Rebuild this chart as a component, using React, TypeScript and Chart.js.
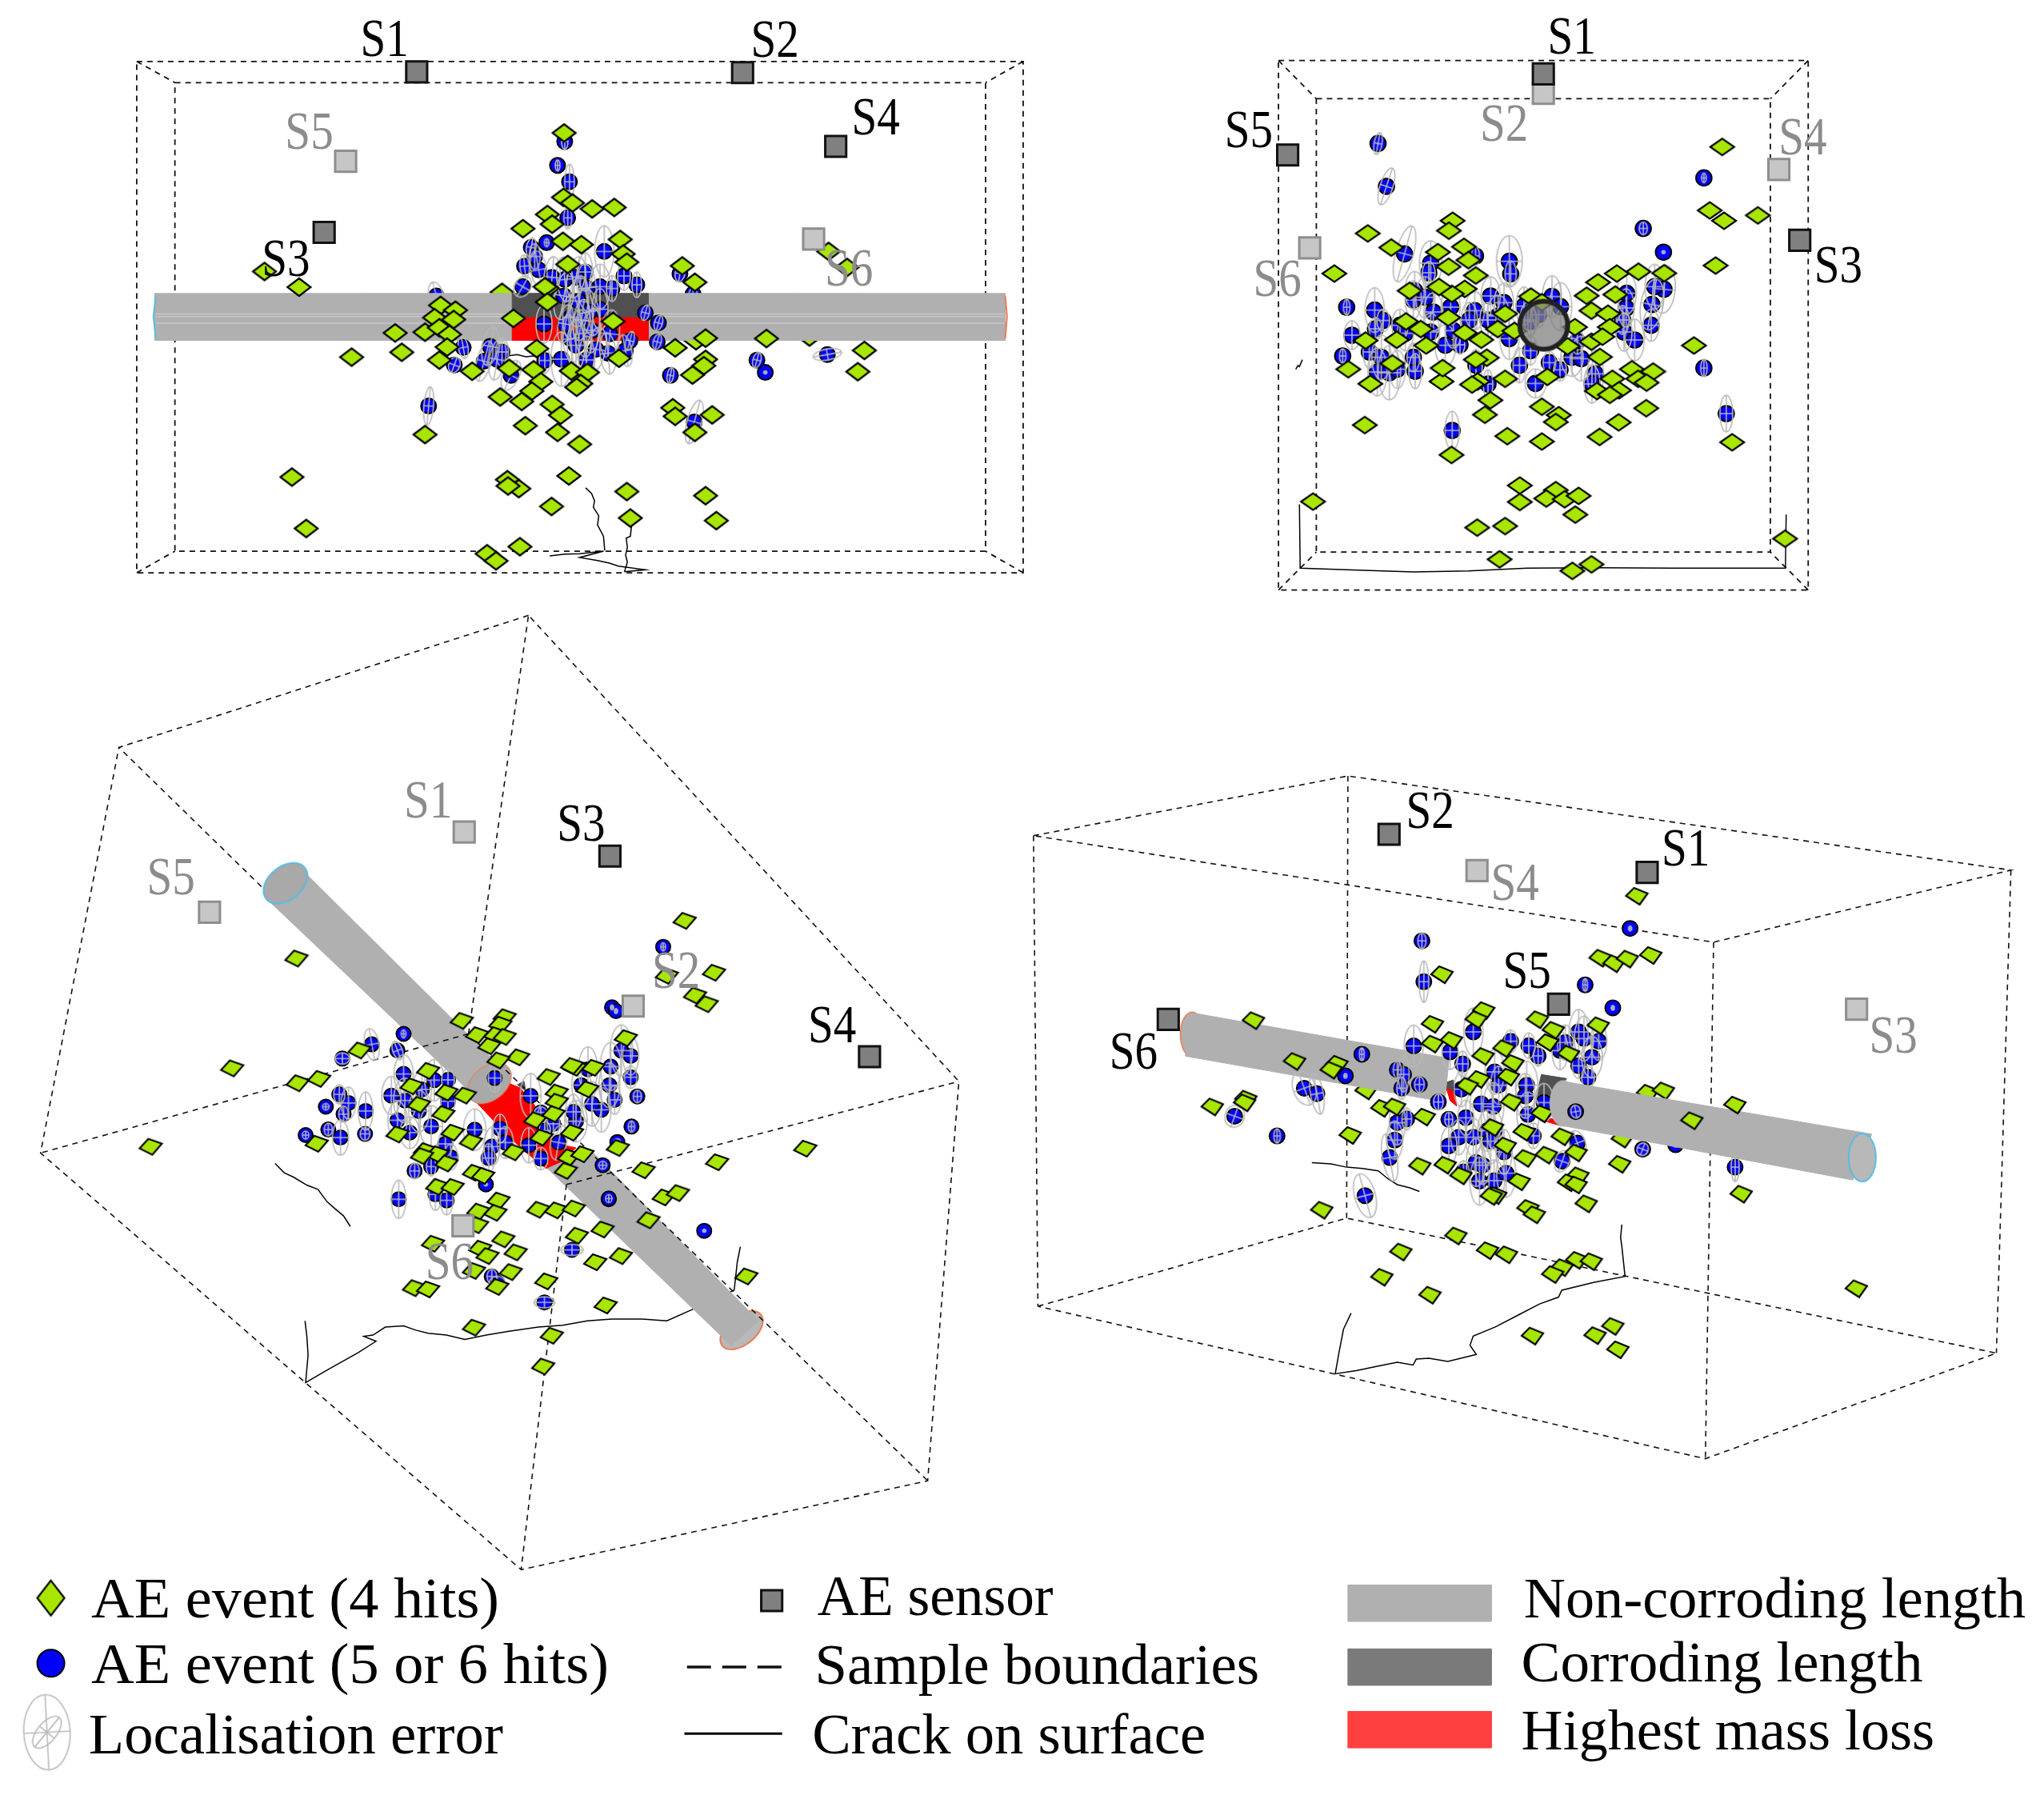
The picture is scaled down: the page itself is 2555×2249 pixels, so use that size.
import React, { useEffect, useRef } from "react";
import { Chart, registerables } from "chart.js";

Chart.register(...registerables);

type P = number[];
const GAP: P = [NaN, NaN];

// ---------- Top-left view ----------
const aBox: P[] = [[28,165],[1513,165],[1513,1538],[28,1538],[28,165],GAP,[92,222],[1450,222],[1450,1480],[92,1480],[92,222],GAP,[28,165],[92,222],GAP,[1513,165],[1450,222],GAP,[1513,1538],[1450,1480],GAP,[28,1538],[92,1480]];
const aRod: P[] = [[58,788],[1483,788],[1483,914],[58,914]];
const aCorroding: P[] = [[657,788],[885,788],[885,853],[657,853]];
const aMassLoss: P[] = [[657,853],[885,853],[885,914],[657,914]];
const aRodStripes: P[] = [[60,843],[657,843],GAP,[885,843],[1481,843],GAP,[60,850],[657,850],GAP,[885,850],[1481,850],GAP,[60,868],[657,868],GAP,[885,868],[1481,868]];
const aEndCyan: P[] = [[60,795],[56,850],[60,908]];
const aEndOrange: P[] = [[1483,795],[1486,850],[1483,908]];
const aCracks: P[] = [[780,1310],[790,1325],[795,1345],[793,1362],[802,1385],[800,1410],[810,1440],[812,1478],GAP,[855,1380],[857,1410],[855,1440],[848,1445],[850,1470],[847,1490],[850,1510],[845,1535],GAP,[720,1493],[745,1488],[770,1487],[810,1480],[770,1497],[800,1505],[820,1512],[835,1520],[880,1530],[845,1535],GAP,[640,958],[665,952],[680,958],[700,955]];
const aSensorsDark: P[] = [[497,193],[1043,195],[1199,393],[342,624]];
const aSensorsLight: P[] = [[378,433],[1162,642]];
const aLabelsDark: [string, number, number][] = [["S1",443,105],["S2",1097,107],["S4",1266,317],["S3",278,697]];
const aLabelsLight: [string, number, number][] = [["S5",317,354],["S6",1221,723]];
const aDiamondsBack: P[] = [[640,785],[965,915],[1155,905]];
const aDiamonds: P[] = [[744,357],[743,530],[758,545],[791,561],[828,557],[716,576],[724,602],[675,614],[838,643],[742,648],[773,657],[843,682],[849,704],[750,710],[716,774],[712,770],[942,714],[963,758],[242,729],[300,771],[1187,675],[1218,718],[537,820],[562,833],[527,853],[559,858],[716,811],[659,855],[461,894],[511,892],[535,880],[552,898],[826,863],[981,908],[1083,909],[930,934],[548,932],[388,959],[472,946],[535,967],[1247,941],[836,962],[698,936],[652,989],[590,997],[693,993],[756,996],[783,1000],[981,965],[978,982],[959,1007],[1236,998],[705,1025],[772,1030],[765,1040],[690,1050],[637,1066],[673,1078],[724,1086],[738,1115],[926,1095],[930,1118],[992,1114],[963,1161],[679,1143],[733,1161],[511,1167],[770,1193],[288,1281],[649,1288],[668,1312],[650,1305],[752,1278],[849,1320],[981,1331],[723,1360],[855,1391],[999,1398],[312,1419],[670,1468],[615,1487],[630,1506]];
const aBlueBack: P[] = [[960,790,5,8,0],[530,795,9,18,-15]];
const aBlue: P[] = [[745,380,4,10,0],[733,444,3,7,0],[753,488,6,22,0],[750,585,5,14,0],[938,735,6,10,10],[880,840,5,10,15],[902,867,5,10,15],[900,918,5,10,15],[575,933,6,14,-10],[620,930,10,24,10],[640,945,8,18,0],[610,970,9,26,15],[632,965,10,26,10],[560,980,7,10,20],[655,1008,10,20,25],[922,1008,4,10,10],[1067,967,5,10,15],[1081,1000,2,2,0],[1185,952,18,7,-10],[517,1090,6,24,5],[962,1133,9,28,15]];
const aCoreBlue: P[] = [[490,160,3,5,0],[432,178,6,12,10],[445,212,7,16,0],[407,248,6,14,-5],[460,262,10,24,-10],[510,290,10,26,5],[400,325,10,14,30],[635,270,9,24,0],[558,298,10,28,-5],[600,290,11,26,10],[706,193,12,32,0],[780,285,8,18,0],[828,318,6,16,0],[735,332,7,16,0],[555,360,12,30,10],[690,325,13,28,0],[640,330,12,30,-5],[610,380,12,32,5],[690,410,10,26,0],[650,420,12,30,-10],[580,440,10,28,0],[560,465,9,24,10],[480,465,10,24,0],[625,500,11,30,-8],[660,490,10,28,5],[727,502,12,30,5],[600,545,11,32,0],[675,560,12,28,10],[720,575,10,26,-5],[483,602,7,16,0],[545,597,13,34,0],[785,565,8,20,-10],[802,528,5,12,15],[640,600,10,30,0],[580,520,10,30,-6],[620,450,10,26,8]];

// ---------- Top-right view ----------
const bBox: P[] = [[83,158],[1525,158],[1525,1542],[83,1542],[83,158],GAP,[186,258],[1422,258],[1422,1443],[186,1443],[186,258],GAP,[83,158],[186,258],GAP,[1525,158],[1422,258],GAP,[1525,1542],[1422,1443],GAP,[83,1542],[186,1443]];
const bCracks: P[] = [[140,1318],[142,1485],[300,1490],[450,1495],[600,1492],[760,1485],[950,1484],[1160,1485],[1463,1485],[1465,1345],GAP,[130,965],[136,955],[140,958],[148,940]];
const bRodEnd: P[] = [[805,850]];
const bSensorsLight: P[] = [[804,244],[1445,443],[168,648]];
const bSensorsDark: P[] = [[804,193],[108,405],[1502,628]];
const bLabelsDark: [string, number, number][] = [["S1",881,97],["S5",2,342],["S3",1607,695]];
const bLabelsLight: [string, number, number][] = [["S2",697,325],["S4",1510,360],["S6",80,730]];
const bDiamonds: P[] = [[1291,384],[1257,550],[1296,577],[1388,563],[1273,694],[1214,903],[1318,1156],[557,577],[547,603],[326,610],[390,647],[235,715],[588,645],[517,659],[600,680],[546,697],[620,720],[590,755],[555,768],[520,750],[440,760],[1004,715],[1063,710],[1133,714],[953,738],[922,773],[1000,770],[935,812],[980,820],[890,855],[985,855],[935,893],[965,880],[958,933],[1045,965],[1103,971],[1062,990],[1085,1000],[992,990],[1010,1020],[950,1022],[985,1032],[870,905],[405,888],[485,903],[393,950],[273,965],[333,1003],[527,997],[530,962],[650,935],[625,997],[610,1005],[700,990],[815,985],[680,860],[725,865],[635,888],[620,940],[660,1046],[645,1084],[800,1063],[846,1085],[838,1103],[1084,1067],[1009,1104],[318,1111],[706,1140],[800,1154],[957,1142],[554,1189],[740,1269],[740,1312],[838,1281],[812,1303],[862,1305],[900,1296],[891,1345],[624,1379],[700,1375],[177,1311],[1462,1408],[685,1462],[883,1492],[935,1475],[770,775],[800,790],[430,840],[470,860],[320,890],[545,830],[590,870],[700,820]];
const bBlue: P[] = [[354,375,5,14,10],[377,487,8,24,18],[1241,465,3,6,0],[1076,597,5,8,0],[1131,659,2,2,0],[1241,962,4,11,0],[1302,1081,8,23,0],[556,1125,9,24,0]];
const bCoreBlue: P[] = [[287,172,11,36,15],[385,207,14,28,0],[378,243,8,14,0],[553,180,5,12,0],[680,200,16,32,0],[685,247,7,16,0],[840,332,12,26,0],[872,370,14,30,0],[70,372,4,10,0],[175,383,12,28,0],[207,422,8,14,0],[178,453,8,14,0],[90,477,10,18,0],[55,555,4,9,0],[155,540,8,20,0],[200,560,12,28,0],[185,615,12,30,0],[230,618,14,34,0],[260,605,10,24,0],[327,612,8,22,0],[320,560,8,18,0],[325,310,12,24,0],[320,345,10,24,0],[365,335,12,26,0],[395,390,12,24,0],[270,440,10,20,0],[290,470,10,22,0],[385,465,11,24,0],[440,515,13,26,0],[495,513,6,12,0],[470,460,10,22,0],[460,372,12,22,0],[550,385,12,24,0],[530,420,10,22,0],[610,330,12,24,0],[660,355,12,24,0],[638,405,14,26,0],[600,420,10,22,0],[735,368,10,24,0],[750,420,10,22,0],[680,490,12,26,0],[555,590,8,20,0],[600,660,6,18,0],[718,590,8,22,0],[760,535,8,18,0],[778,658,13,18,0],[830,580,8,14,0],[870,607,8,14,0],[915,560,14,24,0],[950,565,14,28,0],[935,500,8,16,0],[1003,622,10,30,0],[990,660,10,24,0],[1120,320,12,26,0],[1118,375,10,24,0],[1105,420,8,18,0],[1110,465,10,24,0],[1150,495,12,26,0],[1215,362,14,32,10],[1260,305,14,30,5],[1225,295,12,28,0],[1212,440,10,20,0],[760,425,8,18,0],[790,400,8,16,0]];

// ---------- Lower-left view ----------
const cBoxBehindRod: P[] = [[886,934],[155,226]];
const cBox: P[] = [[824,12],[155,226],[27,883],[812,1558],[1476,1414],[1527,767],[824,12],GAP,[726,690],[824,12],GAP,[726,690],[27,883],GAP,[726,690],[1476,1414],GAP,[886,934],[812,1558],GAP,[886,934],[1527,767]];
const cRodUpper: P[] = [[458,428],[395,470],[735,790],[785,750]];
const cCoreMassLoss: P[] = [[125,372],[240,305],[300,330],[355,395],[360,480],[440,540],[510,555],[470,590],[440,640],[395,630],[320,570],[250,505]];
const cCoreCorroding: P[] = [[290,318],[315,305],[322,342]];
const cRodLower: P[] = [[925,878],[1200,1155],[1155,1195],[855,908]];
const cRodCapTop: P[] = [[427,446]];
const cRodCapMid: P[] = [[760,770]];
const cRodCapEnd: P[] = [[1172,1170]];
const cCracks: P[] = [[410,900],[425,915],[440,922],[462,935],[480,942],[495,962],[510,975],[522,985],[533,1002],GAP,[459,1155],[462,1180],[464,1210],[460,1255],[500,1232],[545,1207],[575,1188],[555,1180],[570,1178],[590,1165],[620,1163],[640,1170],[660,1175],[690,1178],[720,1185],[755,1178],[790,1172],[840,1165],[880,1162],[920,1155],[960,1152],[1010,1152],[1050,1155],[1095,1135],[1125,1122],[1160,1105],[1165,1060],[1170,1035]];
const cSensorsLight: P[] = [[719,363],[303,493],[995,645],[717,1001]];
const cSensorsDark: P[] = [[957,402],[1381,727]];
const cLabelsDark: [string, number, number][] = [["S3",910,350],["S4",1320,677]];
const cLabelsLight: [string, number, number][] = [["S1",660,312],["S5",240,437],["S2",1065,588],["S6",695,1060]];
const cDiamonds: P[] = [[1079,507],[1127,591],[1050,596],[1096,628],[1115,642],[445,568],[340,746],[447,770],[482,763],[207,873],[715,669],[740,692],[785,663],[778,675],[770,692],[760,710],[785,695],[807,728],[775,733],[548,717],[983,697],[660,750],[633,775],[645,805],[690,785],[720,790],[685,820],[610,853],[478,868],[655,880],[675,885],[700,850],[730,865],[690,900],[650,888],[735,915],[750,920],[675,938],[700,938],[775,960],[742,978],[770,980],[840,975],[869,976],[898,973],[740,1000],[857,760],[900,745],[895,742],[870,785],[870,800],[920,780],[845,858],[835,830],[865,820],[895,850],[890,890],[912,885],[885,912],[800,882],[970,875],[1012,911],[1132,898],[1276,876],[1045,955],[1068,948],[1020,992],[945,1007],[903,1017],[975,1050],[933,1060],[668,1030],[783,1023],[803,1044],[745,1038],[757,1050],[735,1074],[795,1076],[773,1100],[637,1102],[660,1104],[853,1091],[1180,1083],[950,1130],[735,1166],[862,1179],[848,1229],[930,745]];
const cBlue: P[] = [[1044,549,3,5,0],[568,707,9,20,-10],[520,730,9,7,0],[610,717,6,12,-20],[620,690,3,5,0],[620,755,12,24,0],[515,788,7,12,0],[493,808,4,4,0],[530,802,9,20,0],[522,820,6,10,0],[558,815,9,24,0],[460,854,4,5,0],[497,845,5,8,0],[517,858,10,22,0],[557,852,6,8,0],[622,798,14,28,0],[650,780,12,24,0],[670,765,12,26,0],[630,850,12,20,0],[665,840,14,26,0],[638,912,6,10,0],[612,958,9,24,0],[672,950,8,20,0],[665,905,6,12,0],[645,815,13,26,0],[600,790,12,24,0],[610,830,12,24,0],[1111,1009,2,2,0],[955,958,4,4,0],[895,1040,14,7,0],[764,1083,6,9,0],[773,1093,10,8,0],[850,1125,13,7,0]];
const cCoreBlue: P[] = [[205,293,8,18,0],[340,360,13,28,0],[378,422,8,7,0],[225,483,9,18,0],[245,535,10,20,0],[195,550,10,24,0],[130,487,14,26,0],[182,593,8,18,0],[333,545,10,22,0],[378,595,9,14,0],[393,490,7,12,0],[445,535,10,22,10],[510,455,14,26,0],[425,465,8,14,0],[605,412,12,28,0],[530,320,12,26,0],[555,260,12,28,0],[640,250,13,30,0],[680,190,14,32,0],[715,210,10,24,0],[715,290,8,14,0],[635,320,13,28,0],[655,375,8,18,0],[570,390,12,28,0],[500,420,10,22,0],[740,362,5,8,0],[718,475,4,7,0],[665,533,4,4,0],[610,620,5,5,0],[172,692,2,2,0],[40,590,9,16,0],[25,752,8,18,0],[30,300,8,14,0],[30,380,9,16,0],[20,540,9,16,0],[645,28,2,3,0],[660,42,2,3,0],[633,745,4,5,0]];

// ---------- Lower-right view ----------
const dBox: P[] = [[15,165],[512,35],[1560,240],[1090,397],[15,165],GAP,[512,35],[510,998],GAP,[15,165],[22,1190],GAP,[1090,397],[1077,1522],GAP,[1560,240],[1537,1292],GAP,[22,1190],[510,998],[1537,1292],[1077,1522],[22,1190]];
const dCoreCorrodingA: P[] = [[380,280],[475,295],[440,340],[425,400],[360,370]];
const dCoreCorrodingB: P[] = [[22,310],[50,300],[55,340],[22,335]];
const dCoreLossA: P[] = [[25,335],[55,340],[62,398],[38,378]];
const dCoreLossB: P[] = [[385,452],[420,445],[452,472]];
const dRodLeft: P[] = [[270,552],[672,650],[665,745],[255,645]];
const dRodRight: P[] = [[860,702],[1340,815],[1310,915],[845,795]];
const dCapLeft: P[] = [[266,598]];
const dCapMid: P[] = [[852,748]];
const dCapRight: P[] = [[1325,866]];
const dCracks: P[] = [[455,877],[485,880],[510,887],[535,890],[560,895],[575,912],[590,925],[610,932],[625,940],GAP,[945,1012],[943,1040],[945,1060],[950,1125],[900,1138],[850,1155],[845,1170],[815,1185],[780,1210],[745,1235],[710,1255],[705,1275],[715,1295],[670,1310],[640,1303],[620,1305],[615,1318],[590,1312],[560,1320],[525,1330],[492,1337],[498,1290],[505,1240],[517,1205]];
const dSensorsDark: P[] = [[577,162],[985,245],[845,532],[228,565]];
const dSensorsLight: P[] = [[716,241],[1316,543]];
const dLabelsDark: [string, number, number][] = [["S2",642,112],["S1",1046,193],["S5",795,460],["S6",173,637]];
const dLabelsLight: [string, number, number][] = [["S4",776,268],["S3",1374,602]];
const dDiamondsBack: P[] = [[985,725],[1010,720],[945,825],[540,720]];
const dDiamonds: P[] = [[968,296],[990,425],[910,431],[932,443],[953,433],[660,467],[362,567],[726,545],[714,565],[645,575],[645,618],[675,610],[811,565],[836,588],[827,615],[907,578],[427,656],[494,662],[485,675],[758,628],[725,645],[772,660],[718,695],[765,690],[860,640],[297,755],[350,738],[348,746],[565,758],[585,755],[632,777],[515,817],[770,745],[818,770],[790,810],[760,840],[850,820],[872,855],[825,860],[792,867],[941,880],[625,884],[665,882],[690,905],[875,905],[860,920],[872,925],[782,918],[745,948],[738,950],[888,966],[796,976],[806,990],[1133,945],[470,980],[682,1036],[595,1071],[732,1068],[762,1077],[873,1089],[896,1092],[850,1105],[835,1120],[565,1126],[641,1165],[1315,1151],[930,1233],[902,1253],[803,1254],[938,1284],[700,710],[740,800]];
const dDiamondsFront: P[] = [[1123,751],[1055,785]];
const dBlue: P[] = [[958,367,2,3,0],[629,394,5,10,0],[632,483,6,26,0],[887,490,3,8,0],[616,623,12,26,0],[534,641,3,8,0],[508,688,2,3,0],[590,675,5,11,0],[600,685,7,22,0],[625,707,6,10,0],[597,715,6,14,0],[605,782,6,14,0],[590,790,10,28,0],[443,715,14,22,-20],[463,727,8,26,-10],[333,776,12,14,20],[400,819,4,9,0],[586,828,10,24,0],[578,866,9,30,-10],[539,949,13,28,-15],[1030,838,3,3,0],[1124,887,5,18,0],[655,745,6,10,0]];
const dCoreBlue: P[] = [[125,120,12,30,0],[265,155,8,14,0],[333,172,8,16,0],[368,210,6,13,0],[520,120,12,28,0],[540,145,12,28,0],[595,155,10,24,0],[470,160,10,22,0],[570,215,13,26,0],[520,247,8,16,0],[555,290,8,14,0],[450,190,10,24,0],[38,195,10,22,0],[85,240,7,16,0],[205,270,12,28,0],[80,335,9,22,0],[220,320,10,24,0],[325,320,14,30,0],[320,360,12,28,0],[390,385,12,24,0],[155,390,14,34,0],[200,400,13,30,0],[330,430,14,28,0],[33,448,5,9,0],[97,442,10,22,0],[178,490,12,26,0],[205,490,10,24,0],[125,515,10,24,0],[70,515,10,22,0],[33,548,10,24,0],[190,530,12,28,0],[350,510,8,16,0],[135,610,12,30,0],[160,620,10,24,0],[88,645,7,14,0],[148,680,12,30,0],[203,678,13,26,0],[248,650,12,30,0],[240,570,10,28,0],[515,537,10,16,-20],[458,605,9,14,20],[760,560,7,8,20],[648,30,2,3,0]];
const dBlueFront: P[] = [[872,766,6,8,-10]];

// ---------- Legend ----------
const legendDiamond: P[] = [[39,1226]];
const legendBlue: P[] = [[39,1276]];
const legendError: P[] = [[36,1329,29,47,-3],[36,1329,24,12,-50]];
const legendSensor: P[] = [[592,1228]];
const legendDash: P[] = [[527,1279],[600,1279]];
const legendCrack: P[] = [[525,1330],[600,1330]];
const swatchLight: P[] = [[1034,1216],[1144,1216],[1144,1244],[1034,1244]];
const swatchDark: P[] = [[1034,1265],[1144,1265],[1144,1293],[1034,1293]];
const swatchRed: P[] = [[1034,1313],[1144,1313],[1144,1341],[1034,1341]];
const legendText: [string, number, number, number][] = [
  ["AE event (4 hits)",70,1241,313],["AE event (5 or 6 hits)",70,1291,397],["Localisation error",68,1345,318],
  ["AE sensor",627,1239,181],["Sample boundaries",625,1292,341],["Crack on surface",623,1345,302],
  ["Non-corroding length",1169,1241,385],["Corroding length",1167,1290,308],["Highest mass loss",1167,1342,317],
];

// ---------- Scales: one pair per read-off frame ----------
const W = 2555, H = 2249, FRAME = 1568, Z3 = FRAME/3;
const frames: Record<string, number[]> = {
  a: [150,0,1170,730], b: [1560,0,720,750], c: [30,760,1200,1210], d: [1280,950,1240,900], l: [0,0,2555,2555],
  a2: [520,250,Z3,Z3], b2: [1660,260,Z3,Z3], c2: [550,1250,Z3,Z3], d2: [1800,1250,Z3,Z3],
};
function buildScales() {
  const s: any = {};
  for (const k of Object.keys(frames)) {
    const [x0,y0,w,h] = frames[k];
    const kx = w/FRAME, ky = h/FRAME;
    s["x"+k] = { type:"linear", display:false, min:-x0/kx, max:(W-x0)/kx };
    s["y"+k] = { type:"linear", display:false, reverse:true, min:-y0/ky, max:(H-y0)/ky };
  }
  return s;
}

const xy = (pts: P[]) => pts.map(p => ({x:p[0], y:p[1]}));

function sprite(w: number, h: number, draw: (g: CanvasRenderingContext2D) => void) {
  const c = document.createElement("canvas");
  c.width = Math.ceil(w); c.height = Math.ceil(h);
  const g = c.getContext("2d")!;
  g.translate(c.width/2, c.height/2);
  draw(g);
  return c;
}
function diamondSprite(corners: number[][]) {
  return sprite(60, 60, g => {
    g.beginPath();
    corners.forEach((p,i) => i ? g.lineTo(p[0],p[1]) : g.moveTo(p[0],p[1]));
    g.closePath();
    g.fillStyle = "#a8e600"; g.fill();
    g.strokeStyle = "#000"; g.lineWidth = 2.2; g.stroke();
  });
}
function errorSprite(rx: number, ry: number, rot: number) {
  const m = Math.max(rx,ry)+4;
  return sprite(m*2, m*2, g => {
    g.rotate(rot*Math.PI/180);
    g.strokeStyle = "#b8b8b8"; g.lineWidth = 1.6;
    g.beginPath(); g.ellipse(0,0,rx,ry,0,0,Math.PI*2); g.stroke();
    g.beginPath(); g.moveTo(-rx,0); g.lineTo(rx,0); g.moveTo(0,-ry); g.lineTo(0,ry); g.stroke();
  });
}
function capSprite(rx: number, ry: number, rot: number, fill: string, stroke: string, lw: number) {
  const m = Math.max(rx,ry)+lw+3;
  return sprite(m*2, m*2, g => {
    g.rotate(rot*Math.PI/180);
    g.beginPath(); g.ellipse(0,0,rx,ry,0,0,Math.PI*2);
    g.fillStyle = fill; g.fill();
    if (lw) { g.strokeStyle = stroke; g.lineWidth = lw; g.stroke(); }
  });
}

const CYAN = "#55bde6", ORANGE = "#ee7a50", ROD = "#b0b0b0", DARK = "#505050", RED = "#ff0000";

function buildDatasets() {
  const ds: any[] = [];
  const base = (k: string, label: string, pts: P[]) => ({ type:"scatter", label, xAxisID:"x"+k, yAxisID:"y"+k, data:xy(pts), tension:0 });
  const line = (k: string, label: string, pts: P[], color: string, width: number, dash: number[] = []) =>
    ds.push({ ...base(k,label,pts), showLine:true, borderColor:color, borderWidth:width, borderDash:dash, pointRadius:0, fill:false, spanGaps:false });
  const poly = (k: string, label: string, pts: P[], color: string) =>
    ds.push({ ...base(k,label,[...pts,pts[0]]), showLine:true, borderColor:color, borderWidth:1, pointRadius:0, backgroundColor:color, fill:"shape" });
  const marks = (k: string, label: string, pts: P[], style: any) =>
    ds.push({ ...base(k,label,pts), showLine:false, pointStyle:style, pointRadius:4, pointBorderWidth:0 });
  const dots = (k: string, label: string, pts: P[], r: number) =>
    ds.push({ ...base(k,label,pts), showLine:false, pointStyle:"circle", pointRadius:r, pointBackgroundColor:"#0000ff", pointBorderColor:"#000", pointBorderWidth:2 });
  const errors = (k: string, pts: P[]) => {
    const sprites = pts.map(p => errorSprite(p[2],p[3],p[4]));
    marks(k,"Localisation error",pts,(ctx: any) => sprites[ctx.dataIndex]);
  };
  const sensors = (k: string, pts: P[], dark: boolean) =>
    ds.push({ ...base(k,"AE sensor",pts), showLine:false, pointStyle:"rect", pointRadius:18.5,
      pointBackgroundColor: dark ? "#808080" : "#c6c6c6", pointBorderColor: dark ? "#111" : "#8e8e8e", pointBorderWidth:3 });

  const dA = diamondSprite([[-14.5,0],[0,-11],[14.5,0],[0,11]]);
  const dB = diamondSprite([[-15,0],[0,-10.5],[15,0],[0,10.5]]);
  const dC = diamondSprite([[-14,2],[-3,-10],[14,-4],[2,10]]);
  const dD = diamondSprite([[-13,0],[-3,-10],[14,-3],[4,11]]);
  const dash = [7,6];
  const EVT4 = "AE event (4 hits)", EVT5 = "AE event (5 or 6 hits)", BOX = "Sample boundaries", CRACK = "Crack on surface";
  const NONC = "Non-corroding length", CORR = "Corroding length", LOSS = "Highest mass loss";

  // view A
  line("a",BOX,aBox,"#111",1.8,dash);
  line("a",CRACK,aCracks,"#000",1.5);
  marks("a",EVT4,aDiamondsBack,dA);
  dots("a",EVT5,aBlueBack,9.5);
  errors("a",aBlueBack);
  poly("a",NONC,aRod,ROD);
  line("a","Rod highlight",aRodStripes,"#c8c8c8",1.5);
  line("a","Rod end",aEndCyan,CYAN,2);
  line("a","Rod end",aEndOrange,ORANGE,2);
  poly("a",CORR,aCorroding,DARK);
  poly("a",LOSS,aMassLoss,RED);
  dots("a",EVT5,aBlue,9.5);
  errors("a",aBlue);
  dots("a2",EVT5,aCoreBlue,9.5);
  errors("a2",aCoreBlue);
  marks("a",EVT4,aDiamonds,dA);
  sensors("a",aSensorsDark,true);
  sensors("a",aSensorsLight,false);

  // view B
  line("b",BOX,bBox,"#111",1.8,dash);
  line("b",CRACK,bCracks,"#000",1.5);
  dots("b",EVT5,bBlue,9.8);
  errors("b",bBlue);
  dots("b2",EVT5,bCoreBlue,9.8);
  errors("b2",bCoreBlue);
  marks("b",EVT4,bDiamonds,dB);
  marks("b","Rod end",bRodEnd,capSprite(30,30,0,"rgba(128,128,128,0.75)","#222",6));
  sensors("b",bSensorsLight,false);
  sensors("b",bSensorsDark,true);

  // view C
  line("c",BOX,cBoxBehindRod,"#111",1.6,dash);
  line("c",CRACK,cCracks,"#000",1.5);
  marks("c","Rod end",cRodCapEnd,capSprite(31,18,-39,"#b8b8b8",ORANGE,2));
  poly("c2",LOSS,cCoreMassLoss,RED);
  poly("c2",CORR,cCoreCorroding,DARK);
  poly("c",NONC,cRodUpper,ROD);
  poly("c",NONC,cRodLower,ROD);
  marks("c","Rod end",cRodCapTop,capSprite(31,21,-39,"#a9a9a9",CYAN,2));
  marks("c","Rod end",cRodCapMid,capSprite(31,21,-39,"#a9a9a9",ORANGE,1));
  line("c",BOX,cBox,"#111",1.6,dash);
  dots("c",EVT5,cBlue,9);
  errors("c",cBlue);
  dots("c2",EVT5,cCoreBlue,9);
  errors("c2",cCoreBlue);
  marks("c",EVT4,cDiamonds,dC);
  sensors("c",cSensorsLight,false);
  sensors("c",cSensorsDark,true);

  // view D
  line("d",BOX,dBox,"#111",1.6,dash);
  line("d",CRACK,dCracks,"#000",1.5);
  marks("d",EVT4,dDiamondsBack,dD);
  poly("d2",CORR,dCoreCorrodingA,DARK);
  poly("d2",CORR,dCoreCorrodingB,DARK);
  poly("d2",LOSS,dCoreLossA,RED);
  poly("d2",LOSS,dCoreLossB,RED);
  marks("d","Rod end",dCapLeft,capSprite(15,28,0,"#b0b0b0",ORANGE,1.5));
  poly("d",NONC,dRodLeft,ROD);
  dots("d",EVT5,dBlue,9.5);
  errors("d",dBlue);
  dots("d2",EVT5,dCoreBlue,9.5);
  errors("d2",dCoreBlue);
  marks("d",EVT4,dDiamonds,dD);
  marks("d","Rod end",dCapMid,capSprite(17,29,0,ROD,ROD,0));
  poly("d",NONC,dRodRight,ROD);
  marks("d","Rod end",dCapRight,capSprite(17,30,0,"#b8b8b8",CYAN,2));
  marks("d",EVT4,dDiamondsFront,dD);
  dots("d",EVT5,dBlueFront,9.5);
  errors("d",dBlueFront);
  sensors("d",dSensorsDark,true);
  sensors("d",dSensorsLight,false);

  // legend
  marks("l",EVT4,legendDiamond,diamondSprite([[-17,0],[0,-22],[17,0],[0,22]]));
  dots("l",EVT5,legendBlue,17);
  errors("l",legendError);
  sensors("l",legendSensor,true);
  line("l",BOX,legendDash,"#111",3.5,[30,14]);
  line("l",CRACK,legendCrack,"#000",3);
  poly("l",NONC,swatchLight,"#b0b0b0");
  poly("l",CORR,swatchDark,"#7a7a7a");
  poly("l",LOSS,swatchRed,"#ff4040");

  ds.forEach((d,i) => { d.order = ds.length - i; });
  return ds;
}

const viewLabels: [string, [string,number,number][], string][] = [
  ["a",aLabelsDark,"#000"],["a",aLabelsLight,"#8c8c8c"],
  ["b",bLabelsDark,"#000"],["b",bLabelsLight,"#8c8c8c"],
  ["c",cLabelsDark,"#000"],["c",cLabelsLight,"#8c8c8c"],
  ["d",dLabelsDark,"#000"],["d",dLabelsLight,"#8c8c8c"],
];

const textPlugin = {
  id: "figureText",
  afterDatasetsDraw(chart: any) {
    const g: CanvasRenderingContext2D = chart.ctx;
    g.save();
    g.font = '68px "Liberation Serif"';
    g.textAlign = "center"; g.textBaseline = "middle";
    for (const [k,list,color] of viewLabels) {
      g.fillStyle = color;
      for (const [t,x,y] of list) {
        const px = chart.scales["x"+k].getPixelForValue(x), py = chart.scales["y"+k].getPixelForValue(y);
        g.save(); g.translate(px,py+3); g.scale(0.84,1); g.fillText(t,0,0); g.restore();
      }
    }
    g.font = '72px "Liberation Serif"';
    g.textAlign = "left"; g.textBaseline = "alphabetic"; g.fillStyle = "#000";
    const sx = chart.scales.xl, sy = chart.scales.yl;
    for (const [t,x,y,w] of legendText) {
      const px = sx.getPixelForValue(x), py = sy.getPixelForValue(y);
      const target = sx.getPixelForValue(x+w)-px;
      g.save(); g.translate(px,py); g.scale(target/g.measureText(t).width,1); g.fillText(t,0,0); g.restore();
    }
    g.restore();
  },
};

export default function App() {
  const ref = useRef<HTMLCanvasElement>(null);
  useEffect(() => {
    document.body.style.margin = "0";
    const chart = new Chart(ref.current!, {
      type: "scatter",
      data: { datasets: buildDatasets() },
      options: {
        responsive:false, animation:false, events:[],
        layout:{ padding:0, autoPadding:false },
        scales: buildScales(),
        plugins:{ legend:{display:false}, tooltip:{enabled:false}, title:{display:false} },
      },
      plugins:[textPlugin],
    } as any);
    return () => chart.destroy();
  }, []);
  return <canvas ref={ref} width={W} height={H} style={{display:"block", background:"#fff"}} />;
}
